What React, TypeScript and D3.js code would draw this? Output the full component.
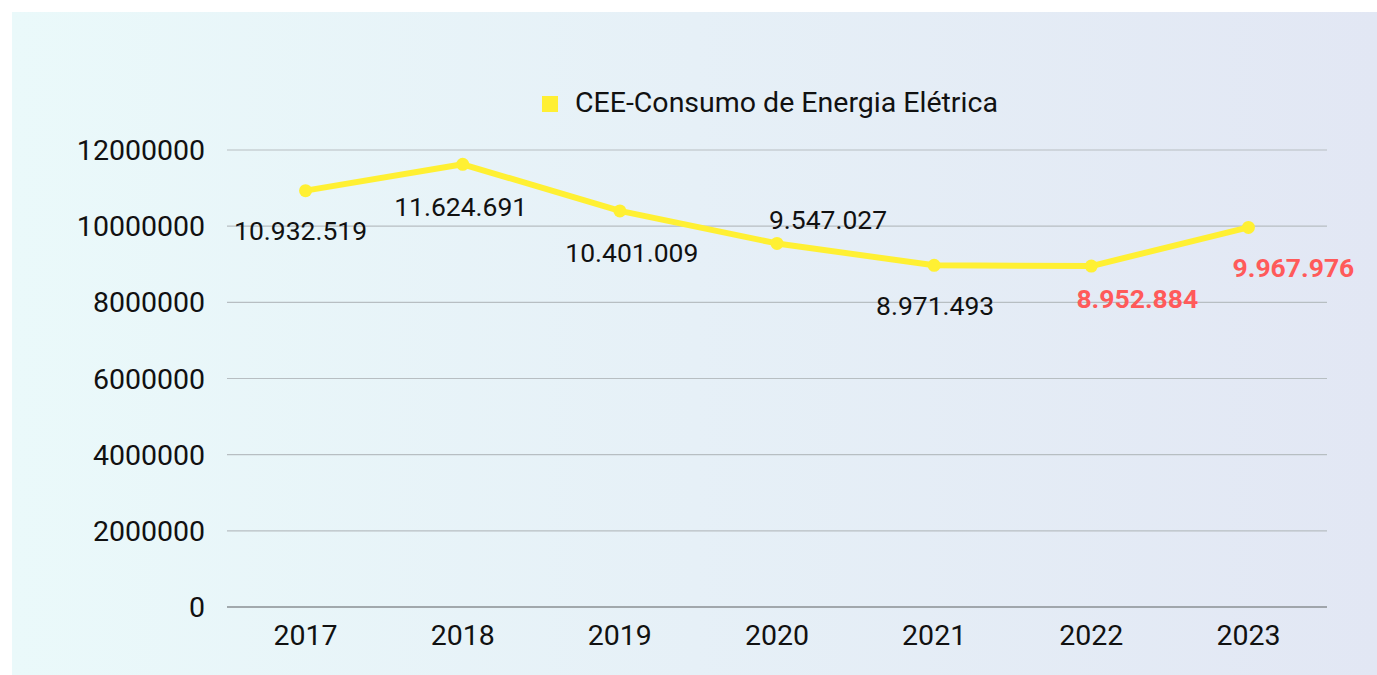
import React from "react";
import * as d3 from "d3";

const WIDTH = 1377;
const HEIGHT = 675;

const years = ["2017", "2018", "2019", "2020", "2021", "2022", "2023"];
const consumo = [10932519, 11624691, 10401009, 9547027, 8971493, 8952884, 9967976];
const yTicks = [0, 2000000, 4000000, 6000000, 8000000, 10000000, 12000000];
const highlighted = ["2022", "2023"];

// label placement relative to the point: [dx, dy of baseline]
const labelPlacement: [number, number][] = [
  [-5, 49],
  [-2, 52],
  [12, 51],
  [51, -14],
  [1, 50],
  [46, 42],
  [45, 50],
];

const margin = { left: 227, right: 50, top: 150, bottom: 68 };
const FS = 28.5;
const LABEL_FS = 26.5;

// pt-BR style thousand separators
const fmtLabel = (v: number) => d3.format(",")(v).replace(/,/g, ".");

export default function App() {
  const x = d3
    .scaleBand()
    .domain(years)
    .range([margin.left, WIDTH - margin.right]);
  const y = d3
    .scaleLinear()
    .domain([0, 12000000])
    .range([HEIGHT - margin.bottom, margin.top]);

  const cx = (yr: string) => (x(yr) as number) + x.bandwidth() / 2;

  const line = d3
    .line<number>()
    .x((_, i) => cx(years[i]))
    .y((d) => y(d));

  const font = "Roboto, 'Noto Sans', sans-serif";

  return (
    <svg
      width={WIDTH}
      height={HEIGHT}
      style={{ position: "absolute", left: 0, top: 0, fontFamily: font }}
    >
      <defs>
        <linearGradient id="bg" x1="0" x2="1" y1="0" y2="0">
          <stop offset="0%" stopColor="#EAF9FA" />
          <stop offset="100%" stopColor="#E2E7F4" />
        </linearGradient>
      </defs>
      <rect x={0} y={0} width={WIDTH} height={HEIGHT} fill="#ffffff" />
      <rect x={12} y={12} width={WIDTH - 12} height={HEIGHT - 12} fill="url(#bg)" />

      {/* legend */}
      <rect x={542} y={96} width={16} height={16} fill="#FFEF33" />
      <text x={575} y={112} fontSize={FS} fill="#111">
        CEE-Consumo de Energia Elétrica
      </text>

      {/* grid + y ticks */}
      {yTicks.map((t) => (
        <g key={t}>
          <line
            x1={margin.left}
            x2={WIDTH - margin.right}
            y1={y(t)}
            y2={y(t)}
            stroke={t === 0 ? "#8A8F93" : "#B7BEC2"}
            strokeWidth={t === 0 ? 1.5 : 1.2}
          />
          <text
            x={205}
            y={y(t) + 10}
            textAnchor="end"
            fontSize={FS}
            fill="#111"
          >
            {t}
          </text>
        </g>
      ))}

      {/* x ticks */}
      {years.map((yr) => (
        <text
          key={yr}
          x={cx(yr)}
          y={645}
          textAnchor="middle"
          fontSize={FS}
          fill="#111"
        >
          {yr}
        </text>
      ))}

      {/* line */}
      <path
        d={line(consumo) || ""}
        fill="none"
        stroke="#FFF033"
        strokeWidth={6}
        strokeLinejoin="round"
      />
      {consumo.map((v, i) => (
        <circle key={years[i]} cx={cx(years[i])} cy={y(v)} r={6.5} fill="#FFF033" />
      ))}

      {/* data labels */}
      {consumo.map((v, i) => {
        const hi = highlighted.includes(years[i]);
        const [dx, dy] = labelPlacement[i];
        return (
          <text
            key={"l" + years[i]}
            x={cx(years[i]) + dx}
            y={y(v) + dy}
            textAnchor="middle"
            fontSize={LABEL_FS}
            fontWeight={hi ? 700 : 400}
            fill={hi ? "#FF5A5A" : "#111"}
          >
            {fmtLabel(v)}
          </text>
        );
      })}
    </svg>
  );
}
